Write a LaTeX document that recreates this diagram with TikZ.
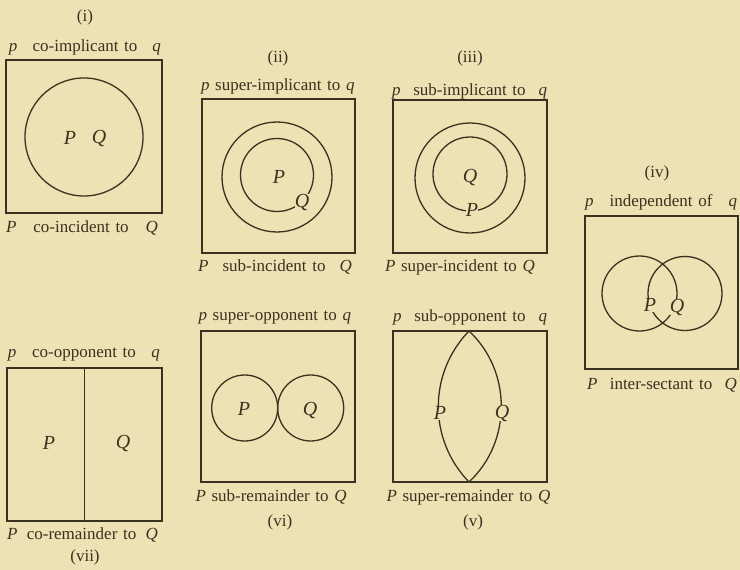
\documentclass[tikz,border=0pt]{standalone}
\usepackage{fontspec}
\setmainfont{Liberation Serif}
\usetikzlibrary{positioning}
\definecolor{paper}{HTML}{ECE2B4}
\definecolor{ink}{HTML}{3A3220}
\newcommand\pqline[3]{\textit{#1}\hfill #2\hfill\textit{#3}}
\newcommand\pqtight[3]{\centering\textit{#1} #2 \textit{#3}}
\tikzset{
  frame/.style={rectangle,draw=ink,line width=1.5pt,minimum width=154pt,
    minimum height=153pt,inner sep=0pt},
  ring/.style={circle,draw=ink,line width=1.3pt,inner sep=0pt},
  arcline/.style={draw=ink,line width=1.3pt},
  reltext/.style={font=\fontsize{17}{19}\selectfont,text=ink,inner sep=0pt,
    align=left,text width=#1},
  tag/.style={font=\fontsize{17}{19}\selectfont,text=ink,inner sep=0pt},
  cls/.style={font=\fontsize{20}{22}\selectfont\itshape,text=ink,inner sep=0.5pt},
  onln/.style={cls,fill=paper,inner sep=0pt},
}
\begin{document}
\begin{tikzpicture}[x=1pt,y=-1pt]
\fill[paper] (0,0) rectangle (740,570);

% (i) co-implicant
\node[tag] (ni) at (85,17) {(i)};
\node[reltext=152pt] (ti) at (85,47) {\pqline{p}{co-implicant to}{q}};
\node[frame,minimum width=156pt] (fi) at (84,136.5) {};
\node[ring,minimum size=118pt] (ci) at (84,137) {};
\node[cls] (Pi) at (70,138) {P};
\node[cls] (Qi) at (99,138) {Q};
\node[reltext=152pt] (bi) at (82,228) {\pqline{P}{co-incident to}{Q}};

% (ii) super-implicant
\node[tag] (nii) at (278,58) {(ii)};
\node[reltext=154pt] (tii) at (278,86) {\pqtight{p}{super-implicant to}{q}};
\node[frame,minimum width=153pt,minimum height=154pt] (fii) at (278.5,176) {};
\node[ring,minimum size=110pt] (oii) at (277,177) {};
\node[ring,minimum size=73pt] (iii) at (277,175) {};
\node[cls] (Pii) at (279,177) {P};
\node[onln] (Qii) at (302,202) {Q};
\node[reltext=154pt] (bii) at (275,267) {\pqline{P}{sub-incident to}{Q}};

% (iii) sub-implicant
\node[tag] (niii) at (470,58) {(iii)};
\node[reltext=155pt] (tiii) at (469.5,91) {\pqline{p}{sub-implicant to}{q}};
\node[frame] (fiii) at (470,176.5) {};
\node[ring,minimum size=110pt] (oiii) at (470,178) {};
\node[ring,minimum size=74pt] (iiii) at (470,174) {};
\node[cls] (Qiii) at (470,177) {Q};
\node[onln] (Piii) at (472,210) {P};
\node[reltext=160pt] (biii) at (465,267) {\pqtight{P}{super-incident to}{Q}};

% (iv) independent
\node[tag] (niv) at (657,173) {(iv)};
\node[reltext=152pt] (tiv) at (661,202) {\pqline{p}{independent of}{q}};
\node[frame,minimum width=153pt] (fiv) at (661.5,292.5) {};
\node[ring,minimum size=75pt] (liv) at (639.5,293.5) {};
\node[ring,minimum size=74pt] (riv) at (685,293.5) {};
\node[onln] (Piv) at (650,305) {P};
\node[onln] (Qiv) at (677,307) {Q};
\node[reltext=150pt] (biv) at (662,385) {\pqline{P}{inter-sectant to}{Q}};

% (vii) co-opponent
\node[reltext=152pt] (tvii) at (84,355) {\pqline{p}{co-opponent to}{q}};
\node[frame,minimum width=155pt] (fvii) at (84.5,444.5) {};
\draw[arcline,line width=1.5pt] (fvii.north) -- (fvii.south);
\node[cls] (Pvii) at (49,443) {P};
\node[cls] (Qvii) at (123,443) {Q};
\node[reltext=151pt] (bvii) at (82.5,535) {\pqline{P}{co-remainder to}{Q}};
\node[tag] (nvii) at (85,557) {(vii)};

% (vi) super-opponent
\node[reltext=160pt] (tvi) at (278.5,318) {\pqtight{p}{super-opponent to}{q}};
\node[frame,minimum height=151pt] (fvi) at (278,406.5) {};
\node[ring,minimum size=66pt] (lvi) at (244.7,408) {};
\node[ring,minimum size=66pt] (rvi) at (310.7,408) {};
\node[cls] (Pvi) at (244,409) {P};
\node[cls] (Qvi) at (310,410) {Q};
\node[reltext=160pt] (bvi) at (275.5,497) {\pqtight{P}{sub-remainder to}{Q}};
\node[tag] (nvi) at (280,522) {(vi)};

% (v) sub-opponent
\node[reltext=154pt] (tv) at (470,317) {\pqline{p}{sub-opponent to}{q}};
\node[frame,minimum height=151pt] (fv) at (470,406.5) {};
\coordinate (vtop) at (469,331);
\coordinate (vbot) at (469,482);
\draw[arcline] (vtop) to[bend right=44] (vbot);
\draw[arcline] (vtop) to[bend left=47] (vbot);
\node[onln] (Pv) at (440,413) {P};
\node[onln] (Qv) at (502,413) {Q};
\node[reltext=170pt] (bv) at (471.5,497) {\pqtight{P}{super-remainder to}{Q}};
\node[tag] (nv) at (473,522) {(v)};
\end{tikzpicture}
\end{document}
